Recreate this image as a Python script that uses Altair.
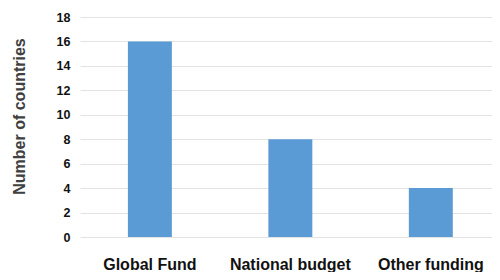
import altair as alt
import pandas as pd

categories = ["Global Fund", "National budget", "Other funding"]
counts = [16, 8, 4]
y_ticks = [0, 2, 4, 6, 8, 10, 12, 14, 16, 18]

df = pd.DataFrame({"source": categories, "count": counts})

font = "Liberation Sans, Arial, sans-serif"

chart = alt.Chart(df).mark_bar(color="#5b9bd5").encode(
    x=alt.X(
        "source:N",
        sort=categories,
        scale=alt.Scale(paddingInner=0.687, paddingOuter=0.31, align=0.55),
        axis=alt.Axis(
            title=None, labelAngle=0, ticks=False, domain=False,
            labelFont=font, labelFontSize=16, labelFontWeight="bold",
            labelColor="#111111", labelPadding=19,
        ),
    ),
    y=alt.Y(
        "count:Q",
        scale=alt.Scale(domain=[0, 18]),
        axis=alt.Axis(
            title="Number of countries", values=y_ticks, ticks=False, domain=False,
            labelFont=font, labelFontSize=12.5, labelFontWeight="bold",
            labelColor="#111111", labelPadding=10,
            titleFont=font, titleFontSize=16, titleFontWeight="bold",
            titleColor="#404040", titlePadding=29, titleY=99,
            gridColor="#e3e3e3", gridWidth=1.2,
        ),
    ),
).properties(
    width=412, height=220,
    autosize=alt.AutoSizeParams(type="none"),
    padding={"left": 72, "top": 9, "right": 0, "bottom": 35},
).configure_view(stroke=None)

chart.save("out.html", embed_options={"renderer": "svg", "actions": False})
